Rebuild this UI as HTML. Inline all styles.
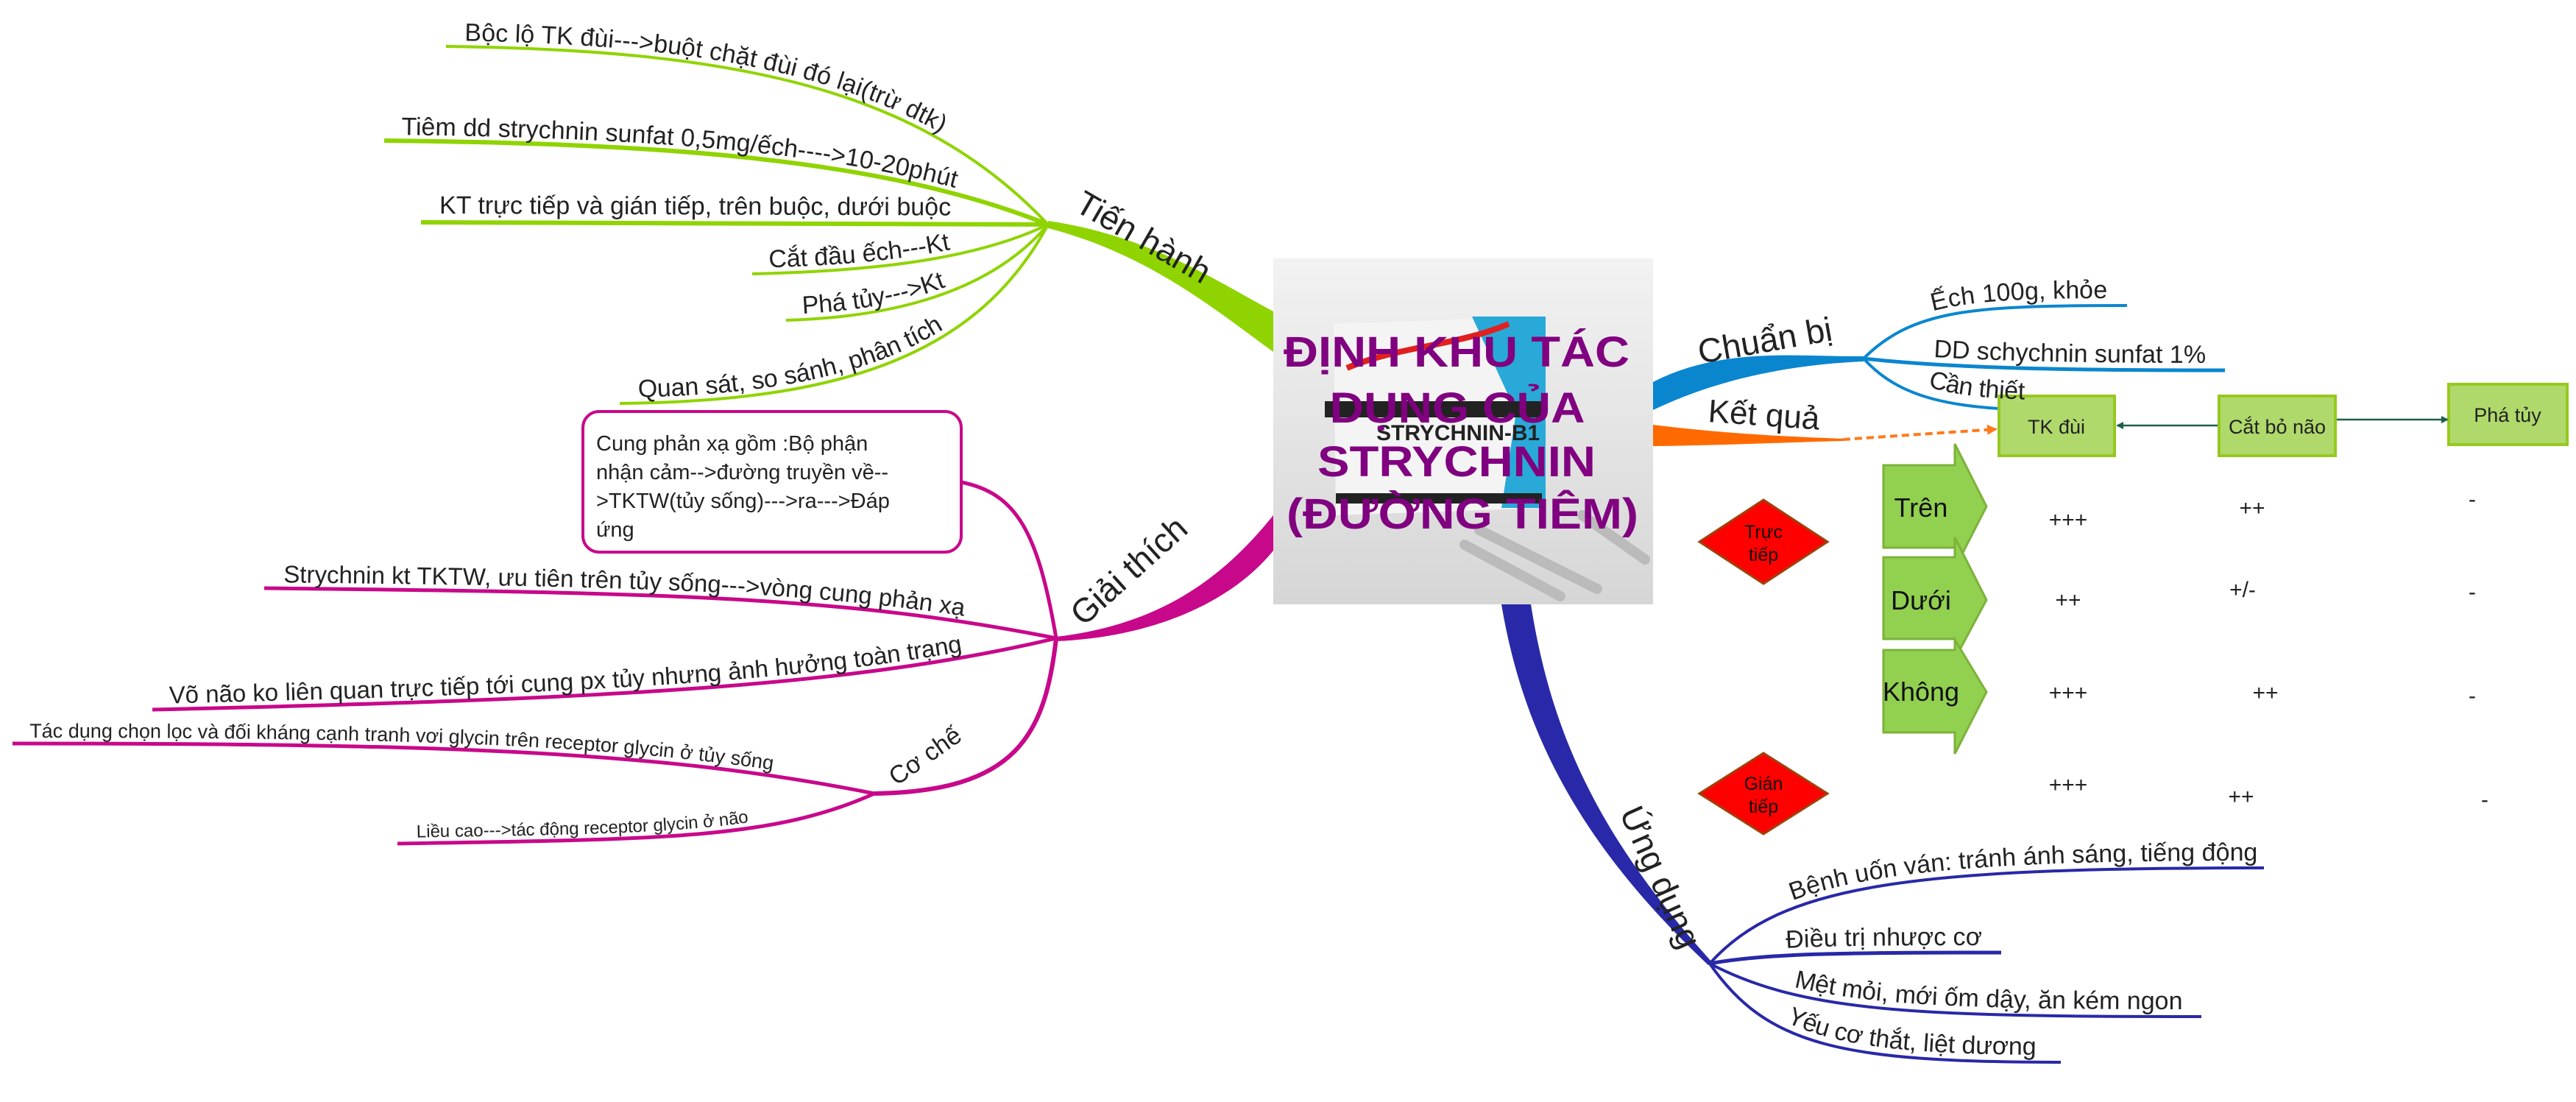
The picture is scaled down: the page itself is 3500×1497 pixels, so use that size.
<!DOCTYPE html>
<html><head><meta charset="utf-8"><style>
html,body{margin:0;padding:0;background:#fff;}
svg{display:block;}
text{font-family:"Liberation Sans","Noto Sans CJK SC",sans-serif;}
</style></head><body>
<svg width="3500" height="1497" viewBox="0 0 3500 1497" xmlns="http://www.w3.org/2000/svg">
<defs>
<linearGradient id="bg" x1="0" y1="0" x2="0" y2="1"><stop offset="0" stop-color="#f2f2f2"/><stop offset="1" stop-color="#d6d6d6"/></linearGradient>
<marker id="ah" markerWidth="10" markerHeight="10" refX="8" refY="5" orient="auto" markerUnits="userSpaceOnUse"><path d="M0,0 L10,5 L0,10 Z" fill="#1f5f4a"/></marker>
<marker id="ao" markerWidth="14" markerHeight="14" refX="12" refY="7" orient="auto" markerUnits="userSpaceOnUse"><path d="M0,0 L14,7 L0,14 Z" fill="#ff7a1a"/></marker>
<path id="g1" d="M606,63 C1000,68 1250,120 1424,305"/>
<path id="g2" d="M522,191 C900,195 1200,215 1424,305"/>
<path id="g3" d="M572,302 L1424,305"/>
<path id="g4" d="M1022,372 C1200,368 1330,350 1424,305"/>
<path id="g5" d="M1068,435 C1250,430 1360,380 1424,305"/>
<path id="g6" d="M842,548 C1150,545 1330,480 1424,305"/>
<path id="m1" d="M359,799 C900,805 1150,810 1435,867"/>
<path id="m2" d="M207,964 C800,950 1150,935 1435,867"/>
<path id="m3" d="M17,1010 C600,1010 900,1020 1188,1078"/>
<path id="m4" d="M540,1146 C900,1140 1050,1140 1188,1078"/>
<path id="b1" d="M2532,487 C2600,420 2680,415 2890,415"/>
<path id="b2" d="M2532,487 C2650,500 2800,503 3023,503"/>
<path id="b3" d="M2532,487 C2580,540 2650,557 2788,557"/>
<path id="u1" d="M2323,1309 C2420,1200 2600,1179 3076,1179"/>
<path id="u2" d="M2323,1309 C2400,1295 2500,1294 2719,1294"/>
<path id="u3" d="M2323,1309 C2450,1375 2600,1381 2991,1381"/>
<path id="u4" d="M2323,1309 C2400,1420 2500,1443 2800,1443"/>
</defs>

<g fill="none" stroke="#8fd400" stroke-width="4">
<use href="#g1"/><use href="#g2" stroke-width="6"/><use href="#g3" stroke-width="6"/><use href="#g4"/><use href="#g5"/><use href="#g6"/>
</g>
<path d="M1424,300 C1560,320 1650,380 1730,423 L1730,478 C1650,420 1560,345 1424,310 Z" fill="#8fd400"/>
<g font-size="34" fill="#222">
<text dy="-8"><textPath href="#g1" startOffset="25">Bộc lộ TK đùi---&gt;buột chặt đùi đó lại(trừ dtk)</textPath></text>
<text dy="-8"><textPath href="#g2" startOffset="23">Tiêm dd strychnin sunfat 0,5mg/ếch----&gt;10-20phút</textPath></text>
<text dy="-12"><textPath href="#g3" startOffset="25">KT trực tiếp và gián tiếp, trên buộc, dưới buộc</textPath></text>
<text dy="-8"><textPath href="#g4" startOffset="23">Cắt đầu ếch---Kt</textPath></text>
<text dy="-8"><textPath href="#g5" startOffset="23">Phá tủy---&gt;Kt</textPath></text>
<text dy="-8"><textPath href="#g6" startOffset="25">Quan sát, so sánh, phân tích</textPath></text>
</g>
<text x="1458" y="285" font-size="46" fill="#222" transform="rotate(30 1458 285)">Tiến hành</text>

<g fill="none" stroke="#c8088a" stroke-width="5">
<use href="#m1"/><use href="#m2"/><use href="#m3"/><use href="#m4"/>
<path d="M1306,655 C1380,670 1410,720 1435,867"/>
<path d="M1435,867 C1420,1000 1380,1075 1188,1078" stroke-width="6"/>
</g>
<path d="M1730,700 C1650,800 1560,850 1435,865 L1435,871 C1580,865 1680,810 1730,748 Z" fill="#c8088a"/>
<rect x="792" y="559" width="514" height="191" rx="22" fill="#fff" stroke="#c8088a" stroke-width="4"/>
<g font-size="29" fill="#222">
<text x="810" y="612">Cung phản xạ gồm :Bộ phận</text>
<text x="810" y="651">nhận cảm--&gt;đường truyền về--</text>
<text x="810" y="690">&gt;TKTW(tủy sống)---&gt;ra---&gt;Đáp</text>
<text x="810" y="729">ứng</text>
</g>
<g font-size="33" fill="#222">
<text dy="-8"><textPath href="#m1" startOffset="26">Strychnin kt TKTW, ưu tiên trên tủy sống---&gt;vòng cung phản xạ</textPath></text>
<text dy="-8"><textPath href="#m2" startOffset="23">Võ não ko liên quan trực tiếp tới cung px tủy nhưng ảnh hưởng toàn trạng</textPath></text>
</g>
<g font-size="27" fill="#222">
<text dy="-8"><textPath href="#m3" startOffset="23">Tác dụng chọn lọc và đối kháng cạnh tranh vơi glycin trên receptor glycin ở tủy sống</textPath></text>
</g>
<g font-size="24" fill="#222">
<text dy="-8"><textPath href="#m4" startOffset="26">Liều cao---&gt;tác động receptor glycin ở não</textPath></text>
</g>
<text x="1472" y="852" font-size="46" fill="#222" transform="rotate(-42 1472 852)">Giải thích</text>
<text x="1218" y="1068" font-size="34" fill="#222" transform="rotate(-35 1218 1068)">Cơ chế</text>

<rect x="1730" y="351" width="516" height="470" fill="url(#bg)"/>
<polygon points="1812,440 2100,430 2100,690 1815,700" fill="#f4f4f4"/>
<polygon points="2000,430 2100,430 2100,690 2040,690 2060,560" fill="#29a9d8"/>
<path d="M1830,500 C1900,470 1980,470 2050,440" stroke="#e02020" stroke-width="8" fill="none"/>
<rect x="1800" y="545" width="300" height="22" fill="#222"/>
<rect x="1815" y="670" width="280" height="14" fill="#222"/>
<text x="1870" y="598" font-size="30" font-weight="bold" fill="#222">STRYCHNIN-B1</text>
<path d="M2010,720 L2170,800 M1990,740 L2120,810 M2150,700 L2235,760" stroke="#bbb" stroke-width="14" stroke-linecap="round"/>
<g font-size="58" font-weight="bold" fill="#800080" text-anchor="middle">
<text x="1979" y="498" textLength="470" lengthAdjust="spacingAndGlyphs">ĐỊNH KHU TÁC</text>
<text x="1980" y="574" textLength="347" lengthAdjust="spacingAndGlyphs">DỤNG CỦA</text>
<text x="1979" y="647" textLength="378" lengthAdjust="spacingAndGlyphs">STRYCHNIN</text>
<text x="1987" y="718" textLength="478" lengthAdjust="spacingAndGlyphs">(ĐƯỜNG TIÊM)</text>
</g>

<path d="M2246,519 C2340,470 2450,485 2532,484 L2532,491 C2440,495 2340,512 2246,557 Z" fill="#0a86cf"/>
<g fill="none" stroke="#0a86cf" stroke-width="4"><use href="#b1"/><use href="#b2" stroke-width="5"/><use href="#b3"/></g>
<g font-size="34" fill="#222">
<text dy="-10"><textPath href="#b1" startOffset="112">Ếch 100g, khỏe</textPath></text>
<text dy="-10"><textPath href="#b2" startOffset="95">DD schychnin sunfat 1%</textPath></text>
</g>
<text x="2310" y="494" font-size="46" fill="#222" transform="rotate(-10 2310 494)">Chuẩn bị</text>

<path d="M2246,577 C2350,590 2450,594 2504,596 L2504,599 C2450,600 2350,605 2246,606 Z" fill="#ff6a00"/>
<text x="2320" y="573" font-size="44" fill="#222" transform="rotate(4 2320 573)">Kết quả</text>
<path d="M2504,597 L2712,583" stroke="#ff7a1a" stroke-width="4" stroke-dasharray="10,6" fill="none" marker-end="url(#ao)"/>

<g fill="#b0d96c" stroke="#96c81e" stroke-width="4">
<rect x="2716" y="538" width="157" height="81"/>
<rect x="3015" y="538" width="158" height="81"/>
<rect x="3327" y="522" width="161" height="82"/>
</g>
<text font-size="34" fill="#222" dy="-14"><textPath href="#b3" startOffset="100">Cần thiết</textPath></text>
<g font-size="27" fill="#222" text-anchor="middle">
<text x="2794" y="589">TK đùi</text>
<text x="3094" y="589">Cắt bỏ não</text>
<text x="3407" y="573">Phá tủy</text>
</g>
<path d="M3013,578 L2877,578" stroke="#1f5f4a" stroke-width="2.5" marker-end="url(#ah)"/>
<path d="M3175,570 L3325,570" stroke="#1f5f4a" stroke-width="2.5" marker-end="url(#ah)"/>

<g fill="#92d050" stroke="#7cb23a" stroke-width="3">
<polygon points="2559,632 2656,632 2656,603 2699,688 2656,772 2656,744 2559,744"/>
<polygon points="2559,757 2656,757 2656,730 2699,815 2656,895 2656,868 2559,868"/>
<polygon points="2559,883 2656,883 2656,869 2699,940 2656,1024 2656,995 2559,995"/>
</g>
<g font-size="36" fill="#111" text-anchor="middle">
<text x="2610" y="702">Trên</text>
<text x="2610" y="828">Dưới</text>
<text x="2610" y="952">Không</text>
</g>

<g fill="#ff0000" stroke="#a0400a" stroke-width="3">
<polygon points="2396,679 2483,736 2396,793 2309,736"/>
<polygon points="2396,1023 2483,1078 2396,1133 2309,1078"/>
</g>
<g font-size="25" fill="#111" text-anchor="middle">
<text x="2396" y="731">Trực</text><text x="2396" y="762">tiếp</text>
<text x="2396" y="1073">Gián</text><text x="2396" y="1104">tiếp</text>
</g>

<g font-size="30" fill="#222" text-anchor="middle">
<text x="2810" y="716">+++</text><text x="3060" y="700">++</text><text x="3359" y="688">-</text>
<text x="2810" y="825">++</text><text x="3047" y="811">+/-</text><text x="3359" y="814">-</text>
<text x="2810" y="951">+++</text><text x="3078" y="951">++</text><text x="3359" y="955">-</text>
<text x="2810" y="1076">+++</text><text x="3045" y="1092">++</text><text x="3376" y="1096">-</text>
</g>

<path d="M2040,821 C2070,1000 2150,1150 2321,1311 L2326,1307 C2175,1140 2108,1000 2080,821 Z" fill="#2828a8"/>
<g fill="none" stroke="#2828a8" stroke-width="4"><use href="#u1"/><use href="#u2" stroke-width="5"/><use href="#u3"/><use href="#u4"/></g>
<g font-size="34" fill="#222">
<text dy="-10"><textPath href="#u1" startOffset="140">Bệnh uốn ván: tránh ánh sáng, tiếng động</textPath></text>
<text dy="-10"><textPath href="#u2" startOffset="105">Điều trị nhược cơ</textPath></text>
<text dy="-10"><textPath href="#u3" startOffset="120">Mệt mỏi, mới ốm dậy, ăn kém ngon</textPath></text>
<text dy="-10"><textPath href="#u4" startOffset="135">Yếu cơ thắt, liệt dương</textPath></text>
</g>
<text x="2200" y="1104" font-size="46" fill="#222" transform="rotate(66 2200 1104)">Ứng dụng</text>
</svg>
</body></html>
